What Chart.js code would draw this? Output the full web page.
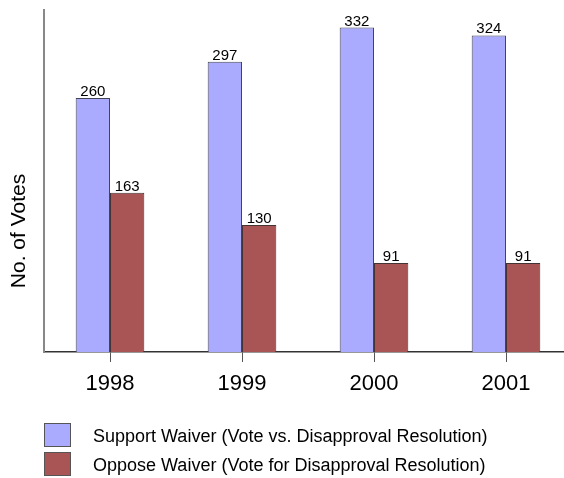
<!DOCTYPE html>
<html>
<head>
<meta charset="utf-8">
<script src="https://cdn.jsdelivr.net/npm/chart.js@4.4.1/dist/chart.umd.min.js"></script>
<style>
  html, body { margin: 0; padding: 0; overflow: hidden; background: #fff; }
</style>
</head>
<body>
<canvas id="votesChart" width="572" height="478"></canvas>
<script>
const years = ['1998', '1999', '2000', '2001'];
const supportVotes = [260, 297, 332, 324];
const opposeVotes = [163, 130, 91, 91];
const seriesNames = [
    'Support Waiver (Vote vs. Disapproval Resolution)',
    'Oppose Waiver (Vote for Disapproval Resolution)'
];
const yTitle = 'No. of Votes';

const FONT = 'Arial, "Liberation Sans", Helvetica, sans-serif';

// value labels above bars
const valueLabels = {
    id: 'valueLabels',
    afterDatasetsDraw(chart) {
        const ctx = chart.ctx;
        ctx.save();
        ctx.font = '15px ' + FONT;
        ctx.fillStyle = '#000';
        ctx.textAlign = 'center';
        ctx.textBaseline = 'alphabetic';
        chart.data.datasets.forEach((ds, i) => {
            chart.getDatasetMeta(i).data.forEach((bar, j) => {
                ctx.fillText(ds.data[j], bar.x, bar.y - 2);
            });
        });
        ctx.restore();
    }
};

// y title and legend drawn by hand to match the layout
const extras = {
    id: 'extras',
    afterDraw(chart) {
        const ctx = chart.ctx;
        ctx.save();
        ctx.fillStyle = '#000';
        ctx.font = '21px ' + FONT;
        ctx.translate(25, 231);
        ctx.rotate(-Math.PI / 2);
        ctx.textAlign = 'center';
        ctx.textBaseline = 'alphabetic';
        ctx.fillText(yTitle, 0, 0);
        ctx.restore();

        ctx.save();
        ctx.font = '18px ' + FONT;
        ctx.textBaseline = 'middle';
        chart.data.datasets.forEach((ds, i) => {
            const top = 423 + i * 29;
            ctx.fillStyle = ds.backgroundColor;
            ctx.fillRect(44, top, 26, 23);
            ctx.strokeStyle = '#555';
            ctx.lineWidth = 1;
            ctx.strokeRect(44.5, top + 0.5, 26, 23);
            ctx.fillStyle = '#000';
            ctx.fillText(seriesNames[i], 93, top + 14);
        });
        ctx.restore();
    }
};

new Chart(document.getElementById('votesChart').getContext('2d'), {
    type: 'bar',
    data: {
        labels: years,
        datasets: [{
            label: seriesNames[0],
            data: supportVotes,
            backgroundColor: '#aaaaff',
            borderColor: '#444455',
            borderWidth: 1
        }, {
            label: seriesNames[1],
            data: opposeVotes,
            backgroundColor: '#aa5555',
            borderColor: '#443333',
            borderWidth: 1
        }]
    },
    options: {
        responsive: false,
        devicePixelRatio: 1,
        animation: false,
        datasets: {
            bar: { barPercentage: 1, categoryPercentage: 0.52 }
        },
        layout: { padding: { top: 10, right: 0, bottom: 0, left: 0 } },
        scales: {
            x: {
                afterFit: s => { s.height = 126; },
                grid: {
                    offset: false,
                    drawOnChartArea: false,
                    tickLength: 10,
                    color: '#555'
                },
                border: { color: '#333', width: 1.5 },
                ticks: {
                    color: '#000',
                    padding: 9,
                    font: { size: 22, family: FONT }
                }
            },
            y: {
                min: 0,
                max: 350,
                afterFit: s => { s.width = 44; },
                grid: { display: false },
                border: { display: true, color: '#888', width: 2 },
                ticks: { display: false }
            }
        },
        plugins: {
            legend: { display: false },
            tooltip: { enabled: false }
        }
    },
    plugins: [valueLabels, extras]
});
</script>
</body>
</html>
